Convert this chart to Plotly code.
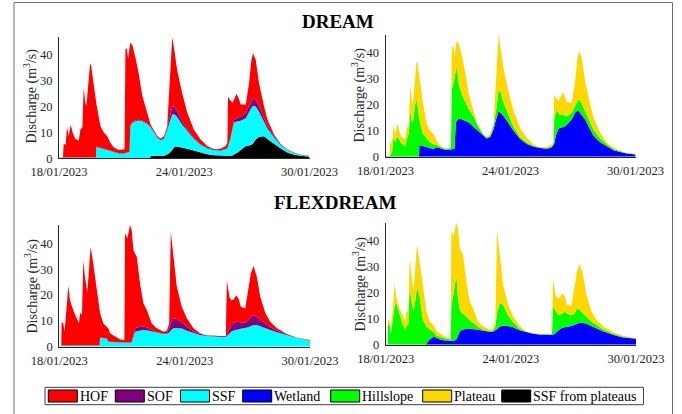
import pandas as pd
import plotly.graph_objects as go

# ---------------- data (hours after 18/01/2023 00:00, discharge m3/s) ----------------
hours_dream = [0, 4.6, 5.4, 7.7, 9.2, 11.1, 13.4, 16.1, 18.8, 22.7, 24.6, 26.9, 28.4, 30, 31.5,
               33.8, 35.7, 36.9, 38.6, 39, 42.5, 43, 47.6, 51.5, 55.3, 59.1, 63, 68.7, 75.3, 76.4,
               78, 79.5, 81, 82.2, 84.5, 87.9, 91.8, 95.6, 101.4, 104.8, 105.2, 107.1, 112.9, 116.7,
               120.6, 124.4, 127.5, 130.2, 132.5, 135.9, 141.7, 147.5, 155.1, 162.8, 170.5, 178.2,
               185.9, 191.6, 193.6, 194.3, 196.6, 199.3, 201.2, 203.9, 206.2, 208.9, 214.7, 218.5,
               221.2, 223.1, 226.2, 230, 235.8, 239.6, 247.3, 255, 262.7, 270.4, 278, 288]

dream_ssf_plateaus = [0] * 40 + [1.0, 1.0, 0.9, 0.9, 1.0, 1.5, 2.2, 3.2, 4.5, 4.6, 4.0, 3.7, 3.0, 2.3,
                      1.6, 1.2, 1.0, 1.0, 1.0, 1.0, 1.0, 1.1, 1.4, 2.0, 2.4, 3.2, 4.8, 4.9, 5.2, 5.8,
                      7.3, 8.3, 8.5, 7.5, 5.5, 3.8, 2.2, 1.4, 1.0, 0.6]
dream_ssf = [0.3] * 21 + [4.4, 4.0, 3.6, 3.2, 2.8, 2.4, 1.9, 1.9, 2.0, 2.0, 2.2, 2.3, 12.5, 13.7, 14.3,
             14.6, 14.3, 13.3, 12.2, 11.0, 10.3, 7.1, 6.1, 6.5, 9.5, 12.3, 13.7, 12.5, 11.4, 9.0,
             6.8, 4.5, 2.9, 2.2, 2.0, 1.9, 2.5, 2.8, 3.5, 6.0, 9.9, 12.3, 12.2, 12.0, 11.3, 10.7,
             13.1, 14.3, 14.5, 12.7, 9.7, 5.5, 4.0, 2.5, 1.2, 1.1, 0.6, 0.3, 0.35]
dream_sof = [0] * 21 + [0.15] * 12 + [0.3] * 12 + [0.8, 1.5, 3.0, 3.0, 2.2, 1.2, 0.6, 0.3] + [0.2] * 9 + \
            [1.0, 1.2, 1.4, 1.5, 1.8, 2.2, 2.5, 2.7, 2.7, 2.2, 1.5, 1.0, 0.5, 0.3, 0.1, 0.1, 0.05, 0.1]
dream_hof = [0, 0.1, 5.5, 4.7, 11.9, 8.2, 12.7, 9.2, 7.2, 6.5, 10.7, 11.7, 27.3, 21.7, 19.7, 29.7,
             36.2, 35.7, 31.2, 30.7, 21.7, 16.45, 8.35, 6.25, 5.25, 3.05, 1.65, 1.15, 1.45, 39.85,
             40.35, 36.15, 40.05, 32.0, 29.5, 24.4, 17.6, 9.9, 4.0, 1.0, 0.9, 0.4, 0.4, 0.4, 0.7,
             0.6, 14.0, 26.9, 22.0, 15.8, 10.8, 6.5, 3.2, 1.9, 0.7, 0.2, 0.6, 1.1, 2.0, 19.0, 15.3,
             10.3, 7.8, 9.5, 7.7, 4.8, 3.5, 8.8, 16.0, 17.6, 15.3, 8.8, 4.5, 2.5, 0.7, 0.1, 0.1,
             0.1, 0.05, 0.05]

dream_wetland = [0.1] * 19 + [4.5, 4.2, 4.1, 3.8, 3.4, 3.0, 3.6, 3.2, 2.7, 2.8, 2.9, 3.0, 3.2, 13.0,
                 14.0, 14.6, 14.4, 13.8, 13.2, 11.5, 10.5, 10.3, 9.7, 7.8, 7.0, 7.6, 10.5, 14.5, 17.4,
                 17.0, 15.7, 13.0, 10.0, 6.8, 4.9, 3.8, 3.3, 3.0, 3.6, 4.5, 5.0, 8.5, 10.8, 11.0,
                 11.3, 11.6, 12.3, 14.5, 17.0, 17.8, 17.4, 16.2, 14.3, 10.6, 8.2, 5.6, 4.0, 2.5, 1.8,
                 1.2, 0.85]
dream_hillslope = [0, 0.1, 0.4, 1.9, 7.9, 5.4, 7.9, 6.4, 4.9, 3.9, 6.9, 8.9, 17.9, 13.9, 12.9, 19.4,
                   21.9, 19.9, 14.9, 10.0, 5.3, 4.9, 3.2, 2.1, 1.8, 0.9, 0.6, 0.3, 0.5, 23.1, 25.0,
                   26.8, 20.0, 21.0, 13.4, 9.6, 7.2, 5.3, 4.0, 2.3, 2.2, 1.7, 0.6, 0.4, 0.5, 1.5, 3.5,
                   8.1, 8.0, 5.3, 3.0, 1.5, 0.7, 0.6, 0.4, 0.2, 0.3, 0.4, 0.5, 9.0, 9.5, 5.7, 5.0, 4.9,
                   4.4, 3.2, 2.5, 3.0, 3.7, 4.6, 4.3, 3.2, 2.4, 2.3, 1.4, 0.8, 0.5, 0.3, 0.15, 0.15]
dream_plateau = [0.2, 0.2, 5.3, 3.0, 4.2, 3.0, 5.0, 3.0, 2.5, 2.8, 4.0, 3.0, 9.6, 8.0, 7.0, 10.5, 14.5,
                 16.0, 16.5, 16.5, 12.5, 12.0, 5.5, 4.5, 3.8, 1.5, 0.4, 0.2, 0.2, 16.0, 14.5, 8.5, 9.5,
                 9.8, 15.5, 15.0, 11.5, 6.0, 2.1, 0.7, 0.7, 0.6, 0.3, 0.3, 0.4, 0.4, 12.0, 21.3, 17.0,
                 13.0, 9.0, 6.1, 3.5, 1.8, 0.5, 0.1, 0.4, 0.8, 1.0, 9.7, 4.5, 5.0, 6.5, 8.7, 7.5, 5.3,
                 3.8, 9.0, 16.5, 18.6, 17.5, 11.5, 7.0, 4.5, 2.2, 0.6, 0.5, 0.1, 0.05, 0.1]

hours_flex = [0, 2.3, 2.7, 4.6, 6.1, 8.4, 10.4, 12.3, 16.1, 19.9, 22.6, 23.8, 26.1, 27.6, 29.5, 32.2,
              34.5, 36, 39.1, 42.9, 46.3, 46.8, 50.6, 54.4, 56.4, 58.3, 64, 69.8, 74.8, 75.5, 78.2,
              81.3, 83.2, 85.1, 87, 89, 92.8, 96.6, 100.5, 106.2, 112, 119.6, 123.5, 126.2, 128.1,
              131.1, 135, 140.7, 146.5, 154.1, 161.8, 169.5, 177.1, 186.7, 191.3, 192.5, 195.6,
              197.5, 200.2, 203.2, 205.9, 208.6, 213.6, 217.4, 220.1, 223.2, 227, 230.8, 236.6,
              242.3, 250, 261.5, 273, 288]

flex_ssf = [0.5] * 21 + [3.5, 3.4, 3.2, 1.9, 1.8, 1.7, 1.6, 1.5, 1.5, 1.5, 1.5, 1.7, 4.0, 5.8, 6.0,
            6.3, 6.5, 6.4, 6.0, 5.3, 4.9, 5.0, 5.5, 6.3, 7.1, 7.2, 7.0, 6.2, 5.3, 4.5, 4.1, 3.9,
            3.7, 3.8, 4.0, 5.3, 5.8, 6.3, 6.7, 6.8, 6.9, 7.1, 7.5, 8.0, 8.4, 8.4, 8.0, 7.3, 6.5,
            5.6, 4.5, 3.4, 2.3]
flex_sof = [0, 0] + [0.05] * 19 + [0.1] * 12 + [0.5, 1.2, 1.4, 1.5, 1.4, 1.0, 0.5, 0.3, 0.2, 0.3, 1.5,
           3.0, 3.8, 3.5, 2.5, 1.5, 0.7, 0.4, 0.2, 0.2, 0.2, 0.2, 0.5, 2.0, 2.5, 2.8, 3.0, 2.8,
           2.5, 2.2, 2.8, 3.5, 3.9, 3.3, 2.6, 1.6, 1.0, 0.6, 0.3, 0.1, 0.1]
flex_hof = [0, 0, 9.15, 8.45, 5.25, 14.95, 23.05, 17.45, 13.45, 10.45, 8.45, 12.45, 11.95, 32.95,
            26.45, 20.45, 31.45, 38.15, 31.45, 21.45, 13.45, 9.4, 5.5, 4.4, 5.0, 3.3, 2.1, 1.1, 1.0,
            42.3, 40.4, 45.5, 43.2, 32.9, 29.0, 27.4, 16.7, 8.9, 6.8, 2.5, 1.5, 0.7, 0.9, 2.0, 35.2,
            23.9, 12.5, 6.0, 3.3, 1.1, 0.3, 0.0, 0.0, 0.0, 0.1, 21.0, 11.7, 9.7, 9.1, 10.2, 9.1,
            6.1, 5.5, 12.9, 16.9, 18.9, 15.3, 8.8, 4.1, 2.2, 0.9, 0.1, 0.0, 0.2]

flex_wetland = [0.05] * 20 + [0.1, 0.5, 2.0, 3.0, 3.0, 2.7, 1.8, 1.6, 1.5, 1.5, 1.5, 2.0, 3.5, 5.0,
                5.6, 5.9, 6.1, 6.3, 6.1, 5.7, 5.3, 5.0, 5.0, 5.4, 6.0, 7.0, 7.3, 7.2, 6.7, 5.6, 4.8,
                4.2, 3.9, 3.7, 3.7, 3.8, 4.5, 5.2, 6.0, 6.5, 6.8, 6.9, 7.2, 7.8, 8.3, 8.5, 8.4, 8.2,
                7.2, 6.3, 5.2, 3.8, 2.8, 2.3]
flex_hillslope = [0, 0.05, 7.95, 7.45, 4.45, 10.95, 14.95, 15.95, 11.45, 7.45, 5.65, 6.95, 7.95,
                  22.95, 16.95, 12.95, 17.95, 22.35, 18.45, 9.45, 7.4, 6.5, 4.0, 2.0, 1.5, 0.8, 1.0,
                  0.7, 0.5, 13.5, 18.5, 24.9, 14.5, 9.0, 6.9, 6.1, 4.7, 3.2, 2.4, 1.2, 0.6, 0.2, 0.3,
                  1.6, 6.0, 9.0, 8.2, 4.3, 2.1, 0.6, 0.2, 0.1, 0.1, 0.1, 0.2, 10.9, 8.5, 6.8, 5.5,
                  5.5, 5.9, 5.1, 4.2, 4.2, 5.7, 5.0, 3.6, 2.8, 1.8, 1.5, 0.8, 0.4, 0.3, 0.1]
flex_plateau = [0.45, 0.4, 1.7, 1.5, 1.3, 4.5, 8.6, 2.0, 2.5, 3.5, 3.3, 6.0, 4.5, 10.5, 10.0, 8.0,
                14.0, 16.3, 13.5, 12.5, 6.5, 6.0, 3.0, 2.7, 2.5, 1.7, 1.1, 0.5, 0.6, 28.9, 22.0, 20.2,
                27.0, 23.4, 23.5, 22.8, 13.7, 7.3, 5.7, 2.1, 1.2, 0.6, 0.9, 2.0, 32.5, 18.8, 7.7, 4.0,
                2.2, 0.9, 0.2, 0.0, 0.1, 0.1, 0.2, 10.8, 6.0, 6.0, 6.7, 7.9, 6.0, 3.5, 3.4, 11.2,
                14.4, 17.7, 15.0, 8.4, 4.0, 1.9, 1.1, 0.7, 0.4, 0.2]

tick_dates = ["2023-01-18", "2023-01-24", "2023-01-30"]
tick_labels = ["18/01/2023", "24/01/2023", "30/01/2023"]
y_ticks = [0, 10, 20, 30, 40]

legend_names = ["HOF", "SOF", "SSF", "Wetland", "Hillslope", "Plateau", "SSF from plateaus"]
COLORS = {"HOF": "#FF0000", "SOF": "#800080", "SSF": "#00FFFF", "Wetland": "#0000FF",
          "Hillslope": "#00FF00", "Plateau": "#FFD700", "SSF from plateaus": "#000000"}

# ---------------- figure ----------------
W, H = 682, 414
def px(x):
    return x / W
def py(y):
    return 1 - y / H

base = pd.Timestamp("2023-01-18")
t_dream = list(base + pd.to_timedelta(hours_dream, unit="h"))
t_flex = list(base + pd.to_timedelta(hours_flex, unit="h"))

panels = [
    ("", t_dream, [("SSF from plateaus", dream_ssf_plateaus), ("SSF", dream_ssf),
                   ("SOF", dream_sof), ("HOF", dream_hof)], (59, 309.5), (158.3, 37.2), 46.8),
    ("2", t_dream, [("Wetland", dream_wetland), ("Hillslope", dream_hillslope),
                    ("Plateau", dream_plateau)], (385.5, 635.5), (156.7, 35.0), 46.8),
    ("3", t_flex, [("SSF", flex_ssf), ("SOF", flex_sof), ("HOF", flex_hof)],
     (59.3, 310), (346.7, 225.0), 47.1),
    ("4", t_flex, [("Wetland", flex_wetland), ("Hillslope", flex_hillslope),
                   ("Plateau", flex_plateau)], (385.7, 636), (344.7, 222.7), 47.1),
]

fig = go.Figure()
FONT = "Liberation Serif"
AXC = "#262626"
layout = {}
for suf, times, series, (x0, x1), (yz, yt), ymax in panels:
    for name, vals in series:
        fig.add_trace(go.Scatter(
            x=times, y=vals, name=name, mode="lines", stackgroup="g" + (suf or "1"),
            line=dict(width=0, color=COLORS[name]), fillcolor=COLORS[name],
            showlegend=False, hoverinfo="skip",
            xaxis="x" + suf, yaxis="y" + suf))
    layout["xaxis" + suf] = dict(
        domain=[px(x0), px(x1)], anchor="y" + suf, type="date", automargin=False,
        range=["2023-01-18 00:00", "2023-01-30 00:00"],
        tickvals=tick_dates, ticktext=tick_labels, ticks="",
        showline=True, linecolor=AXC, linewidth=1, showgrid=False, zeroline=False,
        tickfont=dict(family=FONT, size=12.5, color=AXC), ticklabelstandoff=2)
    layout["yaxis" + suf] = dict(
        domain=[py(yz), py(yt)], anchor="x" + suf, range=[0, ymax], automargin=False,
        tickvals=y_ticks, ticks="", showline=True, linecolor=AXC, linewidth=1,
        showgrid=False, zeroline=False,
        tickfont=dict(family=FONT, size=12.5, color=AXC), ticklabelstandoff=3)

annotations = []
for (xc, yc) in [(31, 96.5), (358.5, 95), (31.5, 286), (359.5, 284)]:
    annotations.append(dict(xref="paper", yref="paper", x=px(xc), y=py(yc),
                            text="Discharge (m<sup>3</sup>/s)", textangle=-90, showarrow=False,
                            xanchor="center", yanchor="middle",
                            font=dict(family=FONT, size=14, color=AXC)))
for text, xc, yc in [("DREAM", 338, 21), ("FLEXDREAM", 335.5, 202.5)]:
    annotations.append(dict(xref="paper", yref="paper", x=px(xc), y=py(yc),
                            text="<b>" + text + "</b>", showarrow=False,
                            xanchor="center", yanchor="middle",
                            font=dict(family=FONT, size=19, color="#000000")))

shapes = []
# outer figure frame (bottom edge lies outside the visible area)
shapes.append(dict(type="rect", xref="paper", yref="paper", x0=px(14), x1=px(672.5),
                   y0=py(430), y1=py(2.5), line=dict(color="#6e6e6e", width=1),
                   fillcolor="rgba(0,0,0,0)", layer="below"))
shapes.append(dict(type="rect", xref="paper", yref="paper", x0=px(45), x1=px(643.5),
                   y0=py(387.3), y1=py(404.7), line=dict(color="#404040", width=1),
                   fillcolor="white"))
legend_patch_x = [48.3, 115.3, 180.5, 242.7, 330.7, 422.7, 501.7]
for name, lx in zip(legend_names, legend_patch_x):
    shapes.append(dict(type="rect", xref="paper", yref="paper", x0=px(lx), x1=px(lx + 29),
                       y0=py(390), y1=py(402), line=dict(color="#000000", width=1),
                       fillcolor=COLORS[name]))
    annotations.append(dict(xref="paper", yref="paper", x=px(lx + 29.5), y=py(396.2),
                            text=name, showarrow=False, xanchor="left", yanchor="middle",
                            font=dict(family=FONT, size=14, color="#000000")))

fig.update_layout(width=W, height=H, margin=dict(l=0, r=0, t=0, b=0, autoexpand=False),
                  paper_bgcolor="white", plot_bgcolor="white",
                  annotations=annotations, shapes=shapes, **layout)
fig.write_html("out.html", config={"displayModeBar": False},
               post_script="document.body.style.margin='0';document.body.style.overflow='hidden';")
